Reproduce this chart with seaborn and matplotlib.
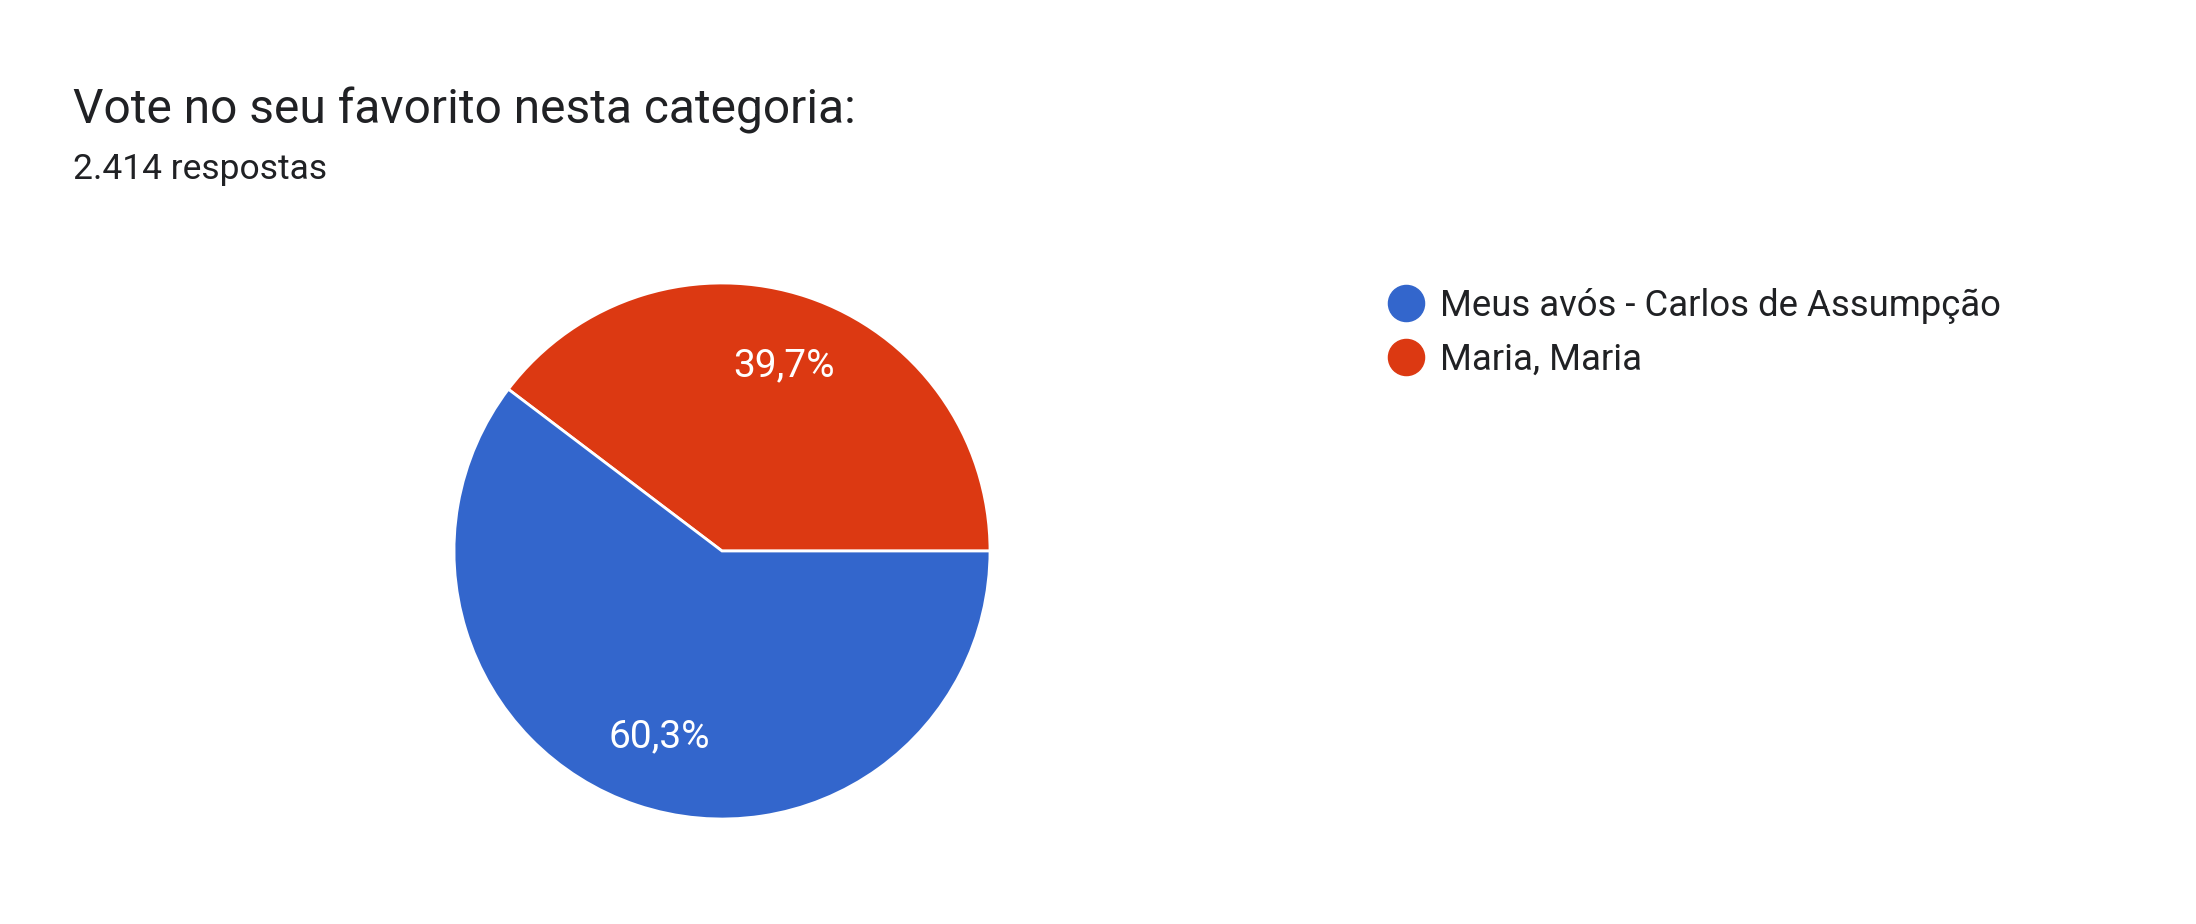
import matplotlib
matplotlib.use("Agg")
import matplotlib.pyplot as plt
from matplotlib.lines import Line2D
import seaborn as sns

# data
categories = ["Meus avós - Carlos de Assumpção", "Maria, Maria"]
counts = [1456, 958]
title = "Vote no seu favorito nesta categoria:"
subtitle = "2.414 respostas"

sns.set_theme(style="white")
plt.rcParams['font.family'] = ['Roboto', 'DejaVu Sans']
colors = sns.color_palette(["#3366CC", "#DC3912"])

W, H = 2196, 924
fig = plt.figure(figsize=(W / 100, H / 100), dpi=100)
fig.patch.set_facecolor("white")

# pie (drawn red first so it sits from 0 deg counter-clockwise)
cx, cy, r = 722, 551, 268
ax = fig.add_axes([(cx - r) / W, (H - cy - r) / H, 2 * r / W, 2 * r / H])
order = [1, 0]
wedges, texts, autotexts = ax.pie(
    [counts[i] for i in order],
    colors=[colors[i] for i in order],
    startangle=0, counterclock=True,
    autopct=lambda p: f"{p:.1f}%".replace(".", ","),
    pctdistance=0.73,
    wedgeprops=dict(edgecolor="white", linewidth=2),
    textprops=dict(color="white", fontsize=28),
)
ax.set_xlim(-1, 1)
ax.set_ylim(-1, 1)
ax.set_aspect("equal")
ax.axis("off")

# titles
fig.text(73 / W, 1 - 123 / H, title, fontsize=34.5, color="#202124", va="baseline")
fig.text(73 / W, 1 - 179 / H, subtitle, fontsize=25.5, color="#202124", va="baseline")

# legend
handles = [Line2D([], [], marker="o", ls="", markersize=26, color=colors[i]) for i in range(len(categories))]
fig.legend(handles, categories, loc="upper left", bbox_to_anchor=(1369 / W, 1 - 270 / H),
           frameon=False, fontsize=26.3, handletextpad=0.45, labelspacing=0.47,
           handlelength=1.0, borderpad=0, labelcolor="#202124")

fig.savefig("out.png", dpi=100, facecolor="white")
